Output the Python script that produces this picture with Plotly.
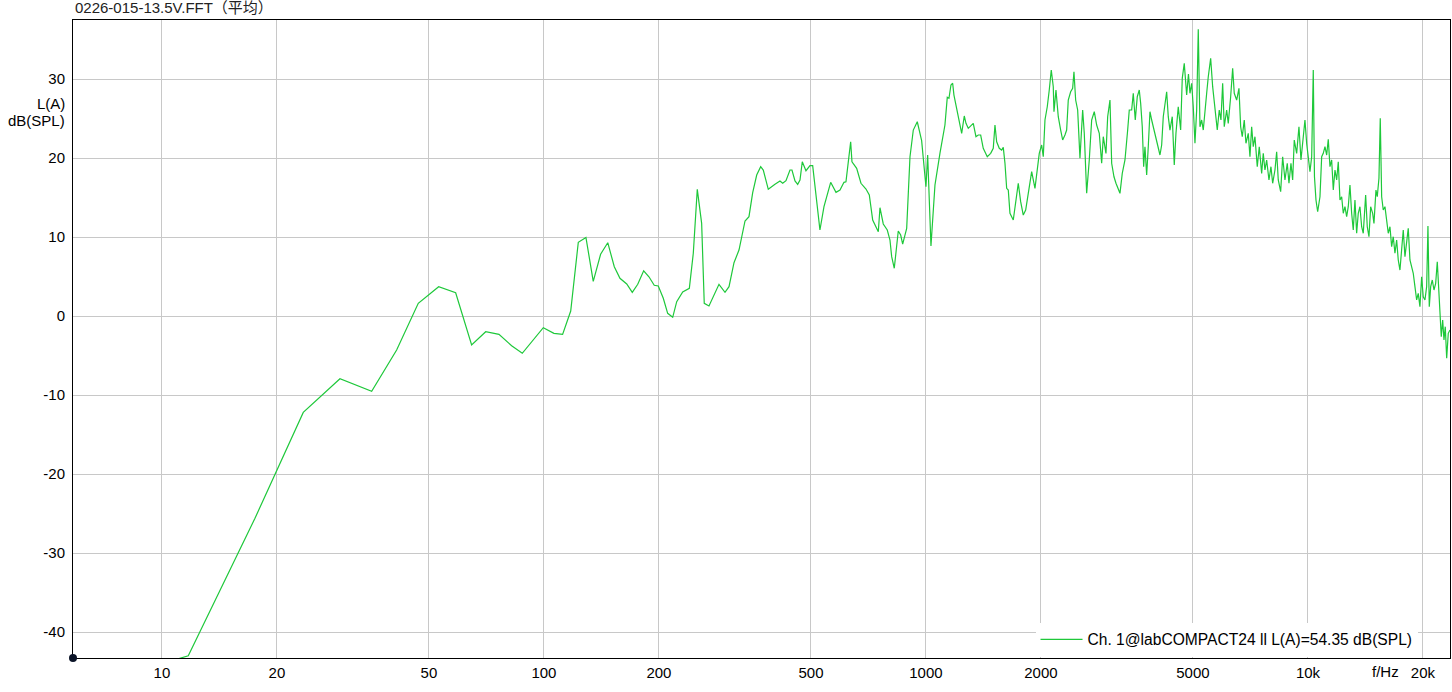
import math
import plotly.graph_objects as go

# ---------------- data ----------------
freq_hz = [
    5.85, 11.72, 17.52, 23.44, 29.24, 35.40, 41.15, 46.88, 53.01, 58.73,
    64.66, 70.39, 76.25, 82.3, 87.75, 99.6, 106.2, 111.9, 117.5, 123.0,
    128.8, 134.6, 140.7, 146.9, 152.8, 158.1, 164.7, 170.3, 176.0, 182.4,
    188.3, 194.4, 199.2, 205.3, 210.8, 217.3, 222.6, 230.8, 240.2, 246.0,
    252.0, 258.7, 262.8, 270.4, 287.2, 297.8, 305.1, 314.4, 324.0, 336.0,
    344.1, 351.9, 360.5, 369.3, 375.1, 386.6, 402.5, 414.8, 421.7, 430.1,
    440.6, 445.9, 454.1, 461.5, 468.0, 474.5, 485.2, 497.0, 505.2, 515.2,
    527.8, 540.8, 549.7, 563.1, 581.4, 595.6, 610.1, 617.4, 635.2, 640.2,
    658.6, 675.9, 696.6, 710.7, 725.4, 750.3, 757.9, 773.1, 792.0, 805.0,
    813.3, 826.1, 846.3, 858.6, 869.0, 890.3, 908.2, 926.5, 949.0, 974.3,
    1000, 1010.3, 1030.6, 1055.8, 1087.9, 1121.2,
    1137.1, 1148.7, 1162.6, 1174.6, 1183.8, 1203.4, 1222.3, 1240.2, 1259.8, 1272.7,
    1290.5, 1317.2, 1330.0, 1351.8, 1370.7, 1390.6, 1412.5, 1447.0, 1477.0, 1500.3,
    1515.8, 1531.4, 1555.6, 1578.3, 1593.6, 1610.0, 1626.6, 1642.4, 1659.3, 1692.6,
    1720.4, 1744.4, 1769.8, 1797.8, 1824.0, 1852.8, 1891.1, 1929.1, 1956.0, 1979.8,
    2008.6, 2028.1, 2049.0, 2077.6, 2102.7, 2128.3, 2154.1, 2163.2, 2189.4, 2220.0,
    2252.3, 2279.6, 2311.4, 2335.2, 2357.9, 2392.2, 2421.2, 2440.2, 2465.4, 2495.3,
    2530.1, 2571.6, 2596.6, 2634.4, 2676.1, 2715.0, 2758.0, 2798.2, 2842.3, 2883.8,
    2911.7, 2959.5, 2990.0, 3031.8, 3063.0, 3105.8, 3143.4, 3187.3, 3220.1, 3265.0,
    3318.6, 3373.1, 3405.8, 3455.4, 3488.9, 3531.2, 3574.0, 3617.4, 3648.0, 3683.4,
    3714.6, 3743.8, 3782.3, 3819.0, 3858.3, 3898.1, 3952.5, 4000.4, 4041.6, 4098.1,
    4140.3, 4180.3, 4266.9, 4308.2, 4352.5, 4413.3, 4466.8, 4512.8, 4575.8, 4642.4,
    4687.4, 4744.3, 4813.4, 4865.9,
    4910.1, 4960.7, 5008.8, 5060.4, 5112.5, 5162.1, 5215.3, 5269.0, 5320.1, 5374.9,
    5430.3, 5482.9, 5562.7, 5630.1, 5674.5, 5743.2, 5788.5, 5858.6, 5918.9, 5979.9,
    6037.9, 6125.8, 6185.2, 6275.3, 6351.4, 6413.0, 6506.4, 6597.2, 6665.2, 6729.8,
    6811.4, 6881.6, 6977.6, 7049.5, 7122.1, 7191.1, 7265.2, 7366.6, 7455.8, 7564.5,
    7637.7, 7716.4, 7795.9, 7904.7, 8000.6, 8083.0, 8195.8, 8280.2, 8360.5, 8482.3,
    8585.2, 8705.0, 8826.5, 8917.4, 9025.6, 9118.6, 9206.9, 9341.0, 9471.4, 9586.3,
    9685.1, 9820.3, 9921.5,
    10018, 10121, 10226, 10325, 10400, 10494, 10602, 10750, 10861, 10966,
    11079, 11194, 11302, 11419, 11536, 11648, 11768, 11889, 12004, 12127,
    12252, 12371, 12498, 12627, 12749, 12880, 13013, 13139, 13274, 13411,
    13541, 13680, 13821, 13955, 14158, 14296, 14443, 14592, 14769, 14885,
    15066, 15184, 15340, 15461, 15592, 15743, 15905, 16069, 16225, 16392,
    16561, 16721, 16893, 17067, 17233, 17410, 17589, 17760, 17943, 18128,
    18303, 18491, 18682, 18863, 19057, 19253, 19439, 19639, 19842, 20034,
    20240, 20449, 20610, 20776, 20952, 21155, 21373, 21593, 21802, 22027,
    22160, 22334, 22523, 22700, 22879, 23073, 23296, 23536,
]

level_db = [
    -47.5, -43.0, -25.6, -12.2, -7.94, -9.53, -4.30, 1.61, 3.71, 2.95,
    -3.67, -1.99, -2.32, -3.76, -4.72, -1.48, -2.19, -2.32, 0.63, 9.33,
    9.94, 4.39, 7.81, 9.28, 6.24, 4.77, 4.05, 3.0, 4.01, 5.73,
    4.97, 3.89, 3.80, 2.24, 0.34, -0.16, 1.81, 3.04, 3.51, 7.94,
    16.04, 11.73, 1.61, 1.27, 4.01, 3.0, 3.71, 6.75, 8.35, 12.03,
    12.57, 15.61, 17.85, 18.9, 18.48, 16.04, 16.67, 17.09, 16.8, 17.13,
    18.48, 18.48, 17.09, 16.67, 17.22, 19.53, 18.39, 19.03, 19.03, 15.53,
    10.89, 13.84, 15.03, 16.92, 15.66, 15.95, 16.92, 17.0, 22.06, 19.53,
    18.7, 16.8, 16.08, 15.32, 12.15, 10.67, 13.71, 11.65, 10.89, 9.62,
    7.51, 6.04, 10.76, 10.25, 9.11, 11.1, 20.16, 23.54, 24.59, 22.19,
    16.37, 20.38, 8.86, 16.58, 20.59, 24.18,
    27.68, 27.56, 29.24, 29.46, 27.97, 26.29, 24.81, 23.13, 25.32, 24.39,
    23.76, 24.18, 24.39, 22.7, 22.91, 22.91, 21.23, 20.16, 20.59, 21.23,
    24.18, 22.06, 21.23, 21.01, 21.35, 19.33, 16.16, 15.95, 13.0, 12.15,
    14.47, 16.8, 14.47, 12.78, 13.42, 15.53, 18.27, 16.16, 18.7, 20.59,
    21.65, 20.16, 24.81, 26.49, 28.61, 31.14, 29.03, 25.86, 28.61, 25.23,
    23.54, 22.28, 22.91, 23.54, 27.34, 28.39, 28.82, 30.92, 27.34, 26.08,
    19.96, 26.08, 23.13, 15.53, 19.75, 24.81, 25.86, 24.18, 23.13, 19.33,
    22.7, 20.59, 25.23, 27.34, 19.33, 17.63, 16.8, 15.95, 15.53, 18.06,
    19.75, 23.54, 26.08, 26.08, 28.19, 24.81, 27.76, 28.61, 26.92, 23.96,
    18.9, 21.43, 17.85, 21.43, 25.86, 24.81, 23.54, 22.49, 21.43, 20.38,
    21.65, 25.23, 28.39, 25.23, 23.54, 25.23, 19.11, 23.13, 26.49, 23.54,
    30.09, 31.99, 27.97, 30.63,
    28.19, 29.46, 26.49, 21.86, 26.08, 36.29, 23.96, 24.81, 23.54, 26.49,
    28.19, 30.29, 32.62, 29.03, 27.34, 25.23, 23.54, 26.08, 24.81, 29.46,
    23.96, 26.08, 24.39, 27.76, 31.35, 28.19, 27.34, 28.82, 23.96, 22.7,
    24.81, 21.86, 23.13, 20.16, 23.96, 21.43, 22.7, 18.9, 21.43, 18.06,
    20.59, 18.48, 19.75, 17.22, 18.9, 16.8, 18.48, 20.8, 17.22, 15.73,
    20.16, 17.22, 19.33, 16.8, 19.33, 17.22, 22.28, 20.59, 23.96, 19.75,
    22.28, 24.81, 21.86,
    19.75, 18.27, 20.16, 31.14, 17.63, 14.68, 13.2, 15.1, 20.16, 20.59,
    21.43, 20.38, 22.37, 18.9, 19.75, 15.95, 18.48, 17.22, 19.53, 14.68,
    15.1, 13.0, 13.84, 12.57, 13.84, 16.58, 13.0, 10.89, 14.68, 10.47,
    13.0, 13.84, 11.3, 10.47, 15.32, 11.3, 10.04, 13.84, 13.0, 11.73,
    15.95, 15.1, 17.43, 25.03, 15.1, 13.42, 13.84, 12.15, 10.47, 11.3,
    8.77, 10.04, 7.94, 9.62, 7.09, 5.82, 8.35, 10.89, 7.51, 9.2,
    11.1, 7.09, 6.24, 5.41, 3.71, 2.03, 2.87, 1.18, 4.97, 2.44,
    2.03, 3.71, 11.39, 1.18, 3.71, 4.56, 3.29, 4.14, 6.87, 2.87,
    -0.09, -2.62, -0.51, -3.04, -1.35, -5.35, -2.19, -1.77,
]

x_tick_vals = [10, 20, 50, 100, 200, 500, 1000, 2000, 5000, 10000, 20000]
x_tick_text = ["10", "20", "50", "100", "200", "500", "1000", "2000", "5000", "10k", "20k"]
y_tick_vals = [-40, -30, -20, -10, 0, 10, 20, 30]
y_tick_text = ["-40", "-30", "-20", "-10", "0", "10", "20", "30"]

x_range_hz = [5.85, 23540]
y_range_db = [-43.29, 37.47]

title_text = "0226-015-13.5V.FFT（平均）"
y_label_lines = ["L(A)", "dB(SPL)"]
y_label_pos_db = [26.96, 24.81]
x_unit_text = "f/Hz"
legend_label = "Ch. 1@labCOMPACT24 ll L(A)=54.35 dB(SPL)"

# ---------------- figure ----------------
FONT = "Liberation Sans, Arial, Noto Sans CJK SC, sans-serif"
GRID = "#c8c8c8"

fig = go.Figure()
fig.add_trace(go.Scatter(
    x=freq_hz, y=level_db, mode="lines", name=legend_label,
    line=dict(color="#1ec83a", width=1.2),
))

annotations = [
    dict(text=title_text, xref="paper", yref="paper", x=0, y=1,
         xanchor="left", yanchor="bottom", xshift=0, yshift=2,
         showarrow=False, font=dict(size=15, color="#222222")),
    dict(text=x_unit_text, xref="paper", yref="paper", x=0.9535, y=0,
         xanchor="center", yanchor="top", yshift=-3,
         showarrow=False, font=dict(size=15)),
]
for txt, yv in zip(y_label_lines, y_label_pos_db):
    annotations.append(dict(text=txt, xref="paper", yref="y", x=0, y=yv,
                            xanchor="right", yanchor="middle", xshift=-6,
                            showarrow=False, font=dict(size=15)))

fig.update_layout(
    width=1452, height=692,
    margin=dict(l=73, r=2, t=20, b=34),
    paper_bgcolor="white", plot_bgcolor="white",
    font=dict(family=FONT, size=15, color="#000000"),
    showlegend=True,
    legend=dict(
        x=0.699, y=0.002, xanchor="left", yanchor="bottom",
        bgcolor="white", borderwidth=0, font=dict(size=15.6),
        itemwidth=42,
    ),
    xaxis=dict(
        type="log",
        range=[math.log10(x_range_hz[0]), math.log10(x_range_hz[1])],
        tickvals=x_tick_vals, ticktext=x_tick_text,
        showgrid=True, gridcolor=GRID, gridwidth=1,
        showline=True, linecolor="black", linewidth=1, mirror=True,
        ticks="", zeroline=False, ticklabelstandoff=1,
    ),
    yaxis=dict(
        range=y_range_db, tickvals=y_tick_vals, ticktext=y_tick_text,
        showgrid=True, gridcolor=GRID, gridwidth=1,
        showline=True, linecolor="black", linewidth=1, mirror=True,
        ticks="", zeroline=False, ticklabelstandoff=4,
    ),
    shapes=[
        # origin dot of the axes frame
        dict(type="circle", xref="paper", yref="paper",
             xsizemode="pixel", ysizemode="pixel", xanchor=0, yanchor=0,
             x0=-4, x1=4, y0=-4, y1=4,
             fillcolor="#0b1428", line=dict(width=0), layer="above"),
    ],
    annotations=annotations,
)

fig.write_html("out.html", config={"displayModeBar": False},
               post_script="document.body.style.margin='0';")
